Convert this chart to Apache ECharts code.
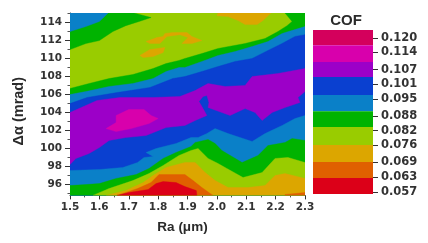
<!DOCTYPE html>
<html><head><meta charset="utf-8">
<style>html,body{margin:0;padding:0;background:#fff}#c{width:428px;height:243px;filter:blur(0.55px)}</style>
<script src="https://cdn.jsdelivr.net/npm/echarts@6/dist/echarts.min.js"></script>
</head><body><div id="c"></div>
<script>
const xTicks=[1.5,1.6,1.7,1.8,1.9,2.0,2.1,2.2,2.3];
const xMinorTicks=[1.55,1.65,1.75,1.85,1.95,2.05,2.15,2.25];
const yTicks=[96,98,100,102,104,106,108,110,112,114];
const yMinorTicks=[95,97,99,101,103,105,107,109,111,113,115];
const cofTicks=[0.12,0.114,0.107,0.101,0.095,0.088,0.082,0.076,0.069,0.063,0.057];
const cofEdges=[0.1232,0.117,0.1101,0.104,0.0966,0.09,0.0835,0.0761,0.0692,0.0626,0.0561];
const bandColors=['#d4005c','#d800ac','#9c00c8','#0a40d0','#0a80c8','#00b300','#99cc00','#dca600','#e06000','#dc0018'];

const plotAll=[[1.5,115],[2.3,115],[2.3,94.8],[1.5,94.8]];
const topBlue=[[1.5,115],[1.63,115],[1.6,114.06],[1.554,113.5],[1.5,112.95]];
const topGreen=[[1.5,115],[1.718,115],[1.776,114.5],[1.735,114.06],[1.69,113.6],[1.646,112.95],[1.6,111.95],[1.554,111.62],[1.5,110.95]];
const orangeA=[[1.759,111.84],[1.796,112.28],[1.817,112.4],[1.823,112.73],[1.85,112.84],[1.898,112.84],[1.915,112.4],[1.949,111.95],[1.915,111.62],[1.881,111.62],[1.902,112.28],[1.874,112.6],[1.83,112.4],[1.806,111.62],[1.772,111.62]];
const orangeB=[[1.738,110.29],[1.772,110.95],[1.823,111.18],[1.817,110.62],[1.783,110.18],[1.749,110.07]];
const orangeC=[[2,114.7],[2.004,115],[2.184,115],[2.157,114.17],[2.137,113.72],[2.096,113.72],[2.072,114.17],[2.038,114.6]];
const upperGreen=[[1.5,106.64],[1.565,107.19],[1.633,107.74],[1.714,108.19],[1.783,108.85],[1.827,109.4],[1.871,109.74],[1.891,109.96],[1.949,110.51],[2.004,111.07],[2.096,111.62],[2.164,112.17],[2.208,112.95],[2.239,113.6],[2.256,114.06],[2.232,115],[2.3,115],[2.3,94.8],[1.5,94.8]];
const upperLightBlue=[[1.5,105.97],[1.554,106.3],[1.633,106.86],[1.714,107.19],[1.783,107.74],[1.827,108.52],[1.871,108.96],[1.891,108.96],[1.949,109.63],[2.004,110.29],[2.062,110.73],[2.12,111.29],[2.174,111.84],[2.222,112.73],[2.266,113.17],[2.3,113.5],[2.3,94.8],[1.5,94.8]];
const blueField=[[1.5,104.97],[1.558,105.64],[1.66,106.19],[1.772,106.75],[1.85,107.74],[1.891,107.96],[1.949,108.52],[2.004,109.07],[2.062,109.63],[2.12,109.96],[2.174,110.85],[2.222,111.62],[2.266,112.4],[2.3,112.6],[2.3,94.8],[1.5,94.8]];
const purpleField=[[1.5,103.98],[1.592,105.31],[1.67,105.64],[1.783,105.64],[1.874,105.75],[1.926,106.41],[1.97,107.19],[2.028,106.86],[2.096,106.97],[2.12,107.96],[2.208,108.3],[2.3,108.85],[2.3,106.3],[2.276,105.64],[2.283,105.09],[2.232,104.53],[2.188,103.98],[2.154,103.09],[2.13,103.98],[2.096,104.42],[2.045,103.65],[1.97,104.53],[1.973,105.09],[1.966,105.86],[1.953,105.75],[1.939,105.2],[1.953,104.42],[1.966,103.65],[1.926,103.09],[1.891,102.54],[1.827,102.32],[1.759,101.43],[1.69,101.21],[1.633,100.88],[1.6,100.1],[1.565,99.44],[1.52,98.89],[1.5,98.22]];
const magentaIsland=[[1.623,102.2],[1.657,102.87],[1.657,103.65],[1.7,104.31],[1.752,104.31],[1.776,103.65],[1.8,103.31],[1.769,102.76],[1.708,102.2],[1.657,101.87]];
const lowerLightBlue=[[1.5,97.56],[1.602,97.67],[1.68,97.89],[1.73,98.44],[1.752,99],[1.783,99.11],[1.759,99.55],[1.793,99.99],[1.861,100.55],[1.912,101.21],[1.936,101.21],[1.966,101.65],[1.994,102.2],[2.038,101.65],[2.12,100.77],[2.164,101.65],[2.222,102.54],[2.266,103.31],[2.3,103.65],[2.3,94.8],[1.5,94.8]];
const lowerGreen=[[1.5,95.89],[1.554,96],[1.6,96.11],[1.657,96.67],[1.725,97.11],[1.769,97.78],[1.817,98.89],[1.861,99.55],[1.912,100.21],[1.926,100.66],[1.97,100.99],[1.994,100.55],[2.017,99.77],[2.086,98.44],[2.14,99.22],[2.174,100.32],[2.232,100.66],[2.256,101.1],[2.3,100.88],[2.3,94.8],[1.5,94.8]];
const lowerYellowGreen=[[1.578,94.8],[1.633,95.56],[1.714,96.44],[1.769,97.22],[1.817,98.11],[1.871,99.22],[1.912,99.77],[1.936,99.99],[1.97,98.89],[2.004,98.33],[2.034,97.78],[2.089,96.78],[2.154,97.33],[2.198,98.89],[2.242,99],[2.3,98.44],[2.3,94.8]];
const lowerOrange=[[1.623,94.8],[1.69,95.33],[1.749,96.22],[1.783,97],[1.827,97.89],[1.891,98.44],[1.926,98.44],[1.96,97.33],[1.994,96.44],[2.038,95.67],[2.106,95.67],[2.164,95.89],[2.198,97],[2.232,97.22],[2.3,96.67],[2.3,94.8]];
const darkOrangeHill=[[1.66,94.8],[1.73,95.56],[1.776,96.22],[1.803,97.11],[1.857,97.11],[1.891,97.11],[1.919,96.44],[1.949,95.67],[1.987,94.8]];
const darkOrangeSliver=[[2.232,94.9],[2.3,95.11],[2.3,94.8],[2.232,94.8]];
const redCore=[[1.66,94.8],[1.7,95.11],[1.766,95.45],[1.793,96.11],[1.817,96.33],[1.861,96.22],[1.891,95.78],[1.93,95.33],[1.932,94.8]];

const regions=[[plotAll,6],[topGreen,5],[topBlue,4],[orangeA,7],[orangeB,7],[orangeC,7],[upperGreen,5],[upperLightBlue,4],[blueField,3],[purpleField,2],[magentaIsland,1],[lowerLightBlue,4],[lowerGreen,5],[lowerYellowGreen,6],[lowerOrange,7],[darkOrangeHill,8],[darkOrangeSliver,8],[redCore,9]];

const inkText='#2a2a2a';
const tickFont={color:'#333',fontFamily:'DejaVu Sans',fontWeight:'bold',fontSize:10.5};
const regionSeries=regions.map(([pts,band],i)=>({
  type:'custom',xAxisIndex:0,yAxisIndex:0,z:2+i,silent:true,clip:true,
  data:pts,encode:{x:0,y:1},
  renderItem(params,api){
    if(params.dataIndex!==0)return null;
    return {type:'polygon',shape:{points:pts.map(p=>api.coord(p))},style:{fill:bandColors[band],stroke:bandColors[band],lineWidth:0.4}};
  }
}));
const legendSeries={
  type:'custom',xAxisIndex:2,yAxisIndex:2,silent:true,z:2,
  data:bandColors.map((c,i)=>[0,cofEdges[i],cofEdges[i+1],i]),
  encode:{x:0,y:[1,2]},
  renderItem(params,api){
    const top=api.coord([0,api.value(1)]),bot=api.coord([1,api.value(2)]);
    return {type:'rect',shape:{x:top[0],y:top[1],width:bot[0]-top[0],height:bot[1]-top[1]},style:{fill:bandColors[api.value(3)]}};
  }
};
const axisInk={lineStyle:{color:'#333',width:1}};
const option={
  animation:false,backgroundColor:'#fff',
  title:{text:'COF',left:341,top:8,textAlign:'center',textStyle:{fontFamily:'Liberation Sans',fontWeight:'bold',fontSize:15,color:inkText}},
  grid:[{left:70,top:13,width:235,height:182.4},{left:313,top:30,width:60,height:164}],
  xAxis:[
    {type:'value',gridIndex:0,min:1.5,max:2.3,position:'bottom',splitLine:{show:false},axisLine:axisInk,
     axisTick:{customValues:xTicks,length:4,lineStyle:{color:'#333'}},
     axisLabel:{customValues:xTicks,formatter:v=>v.toFixed(1),margin:6,...tickFont},
     name:'Ra (μm)',nameLocation:'middle',nameGap:25,nameTextStyle:{fontFamily:'Liberation Sans',fontWeight:'bold',fontSize:13.5,color:inkText,padding:[0,10,0,0]}},
    {type:'value',gridIndex:0,min:1.5,max:2.3,position:'bottom',splitLine:{show:false},axisLine:{show:false},axisLabel:{show:false},
     axisTick:{customValues:xMinorTicks,length:2,lineStyle:{color:'#555'}}},
    {type:'value',gridIndex:1,min:0,max:1,show:false}
  ],
  yAxis:[
    {type:'value',gridIndex:0,min:94.8,max:115,position:'left',splitLine:{show:false},axisLine:axisInk,
     axisTick:{customValues:yTicks,length:5,lineStyle:{color:'#333'}},
     axisLabel:{customValues:yTicks,margin:8,...tickFont},
     name:'Δα (mrad)',nameLocation:'middle',nameGap:44,nameRotate:90,nameTextStyle:{fontFamily:'Liberation Sans',fontWeight:'bold',fontSize:14.5,color:inkText,padding:[0,14,0,0]}},
    {type:'value',gridIndex:0,min:94.8,max:115,position:'left',splitLine:{show:false},axisLine:{show:false},axisLabel:{show:false},
     axisTick:{customValues:yMinorTicks,length:2.5,lineStyle:{color:'#555'}}},
    {type:'value',gridIndex:1,min:0.0561,max:0.1232,position:'right',splitLine:{show:false},axisLine:{show:true,onZero:false,lineStyle:{color:'#ffffff',width:0}},
     axisTick:{show:true,customValues:cofTicks,length:5,lineStyle:{color:'#333',width:1}},
     axisLabel:{customValues:cofTicks,formatter:v=>v.toFixed(3),margin:8,...tickFont,fontSize:11.5}}
  ],
  series:[...regionSeries,legendSeries]
};
echarts.init(document.getElementById('c'),null,{renderer:'canvas'}).setOption(option);
</script></body></html>
